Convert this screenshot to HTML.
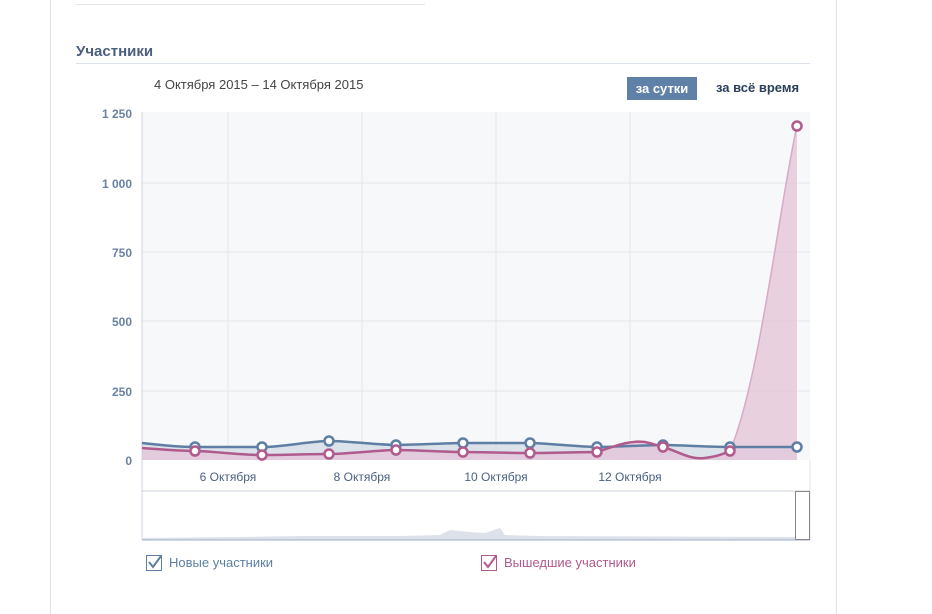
<!DOCTYPE html>
<html><head><meta charset="utf-8"><style>
body{margin:0;width:932px;height:614px;background:#fff;font-family:"Liberation Sans",sans-serif;position:relative;overflow:hidden}
.a{position:absolute}
</style></head><body>
<div class="a" style="left:50px;top:0;width:1px;height:614px;background:#dfe3e8"></div>
<div class="a" style="left:836px;top:0;width:1px;height:614px;background:#dfe3e8"></div>
<div class="a" style="left:76px;top:4px;width:349px;height:1px;background:#e4e7ec"></div>
<div class="a" style="left:76px;top:43px;font-size:15px;font-weight:bold;color:#4a5f7f">Участники</div>
<div class="a" style="left:76px;top:63px;width:734px;height:1px;background:#dae1e8"></div>
<div class="a" style="left:154px;top:77px;font-size:13px;color:#444">4 Октября 2015 – 14 Октября 2015</div>
<div class="a" style="left:627px;top:77px;width:70px;height:23px;background:#5f81a8;color:#fff;font-size:13px;font-weight:bold;text-align:center;line-height:23px">за сутки</div>
<div class="a" style="left:716px;top:80px;font-size:13px;font-weight:bold;color:#2b3f5c">за всё время</div>
<svg class="a" style="left:0;top:0" width="932" height="614">
<rect x="142" y="112" width="668" height="348" fill="#f7f8fa"/>
<g stroke="#e3e6ec" stroke-width="1">
<line x1="142" x2="810" y1="183" y2="183"/><line x1="142" x2="810" y1="252" y2="252"/><line x1="142" x2="810" y1="321" y2="321"/><line x1="142" x2="810" y1="391" y2="391"/>
<line x1="228" x2="228" y1="112" y2="460"/><line x1="362" x2="362" y1="112" y2="460"/><line x1="496" x2="496" y1="112" y2="460"/><line x1="630" x2="630" y1="112" y2="460"/>
</g>
<line x1="142" x2="142" y1="112" y2="540" stroke="#ccd3dc"/>
<g font-size="12" font-weight="bold" fill="#6a82a2" text-anchor="end">
<text x="132" y="118">1 250</text><text x="132" y="188">1 000</text><text x="132" y="257">750</text><text x="132" y="326">500</text><text x="132" y="396">250</text><text x="132" y="465">0</text></g>
<path d="M142,443 C170,446 180,447 195,447 S240,447 262,447 S310,441 329,441 S380,445 396,445 S450,443 463,443 S515,443 530,443 S580,447 597,447 S650,445 663,445 S715,447 730,447 L797,447 L797,460 L142,460Z" fill="#c9d3df" opacity="0.6"/>
<path d="M142,448 C170,450 180,451 195,451 S240,455 262,455 S310,454 329,454 S380,450 396,450 S450,452 463,452 S515,453 530,453 S585,452 597,452 C615,446 630,440 645,442 C655,444 658,446 663,447 C680,452 690,460 705,458 C720,456 725,453 730,451 C760,380 780,200 797,126 L797,460 L142,460Z" fill="#e3c6d8" opacity="0.8"/>
<path d="M142,443 C170,446 180,447 195,447 S240,447 262,447 S310,441 329,441 S380,445 396,445 S450,443 463,443 S515,443 530,443 S580,447 597,447 S650,445 663,445 S715,447 730,447 L797,447" fill="none" stroke="#5e7fa3" stroke-width="2.5"/>
<path d="M142,448 C170,450 180,451 195,451 S240,455 262,455 S310,454 329,454 S380,450 396,450 S450,452 463,452 S515,453 530,453 S585,452 597,452 C615,446 630,440 645,442 C655,444 658,446 663,447 C680,452 690,460 705,458 C720,456 725,453 730,451" fill="none" stroke="#b05a8d" stroke-width="2.5"/>
<path d="M730,451 C760,380 780,200 797,126" fill="none" stroke="#d9a9c6" stroke-width="1.5"/>
<g fill="#fff" stroke="#5e7fa3" stroke-width="2.5">
<circle cx="195" cy="447" r="4.5"/><circle cx="262" cy="447" r="4.5"/><circle cx="329" cy="441" r="4.5"/><circle cx="396" cy="445" r="4.5"/><circle cx="463" cy="443" r="4.5"/><circle cx="530" cy="443" r="4.5"/><circle cx="597" cy="447" r="4.5"/><circle cx="663" cy="445" r="4.5"/><circle cx="730" cy="447" r="4.5"/><circle cx="797" cy="447" r="4.5"/></g>
<g fill="#fff" stroke="#b05a8d" stroke-width="2.5">
<circle cx="195" cy="451" r="4.5"/><circle cx="262" cy="455" r="4.5"/><circle cx="329" cy="454" r="4.5"/><circle cx="396" cy="450" r="4.5"/><circle cx="463" cy="452" r="4.5"/><circle cx="530" cy="453" r="4.5"/><circle cx="597" cy="452" r="4.5"/><circle cx="663" cy="447" r="4.5"/><circle cx="730" cy="451" r="4.5"/><circle cx="797" cy="126" r="4.5"/></g>
<g font-size="12" fill="#4a5f7f" text-anchor="middle">
<text x="228" y="481">6 Октября</text><text x="362" y="481">8 Октября</text><text x="496" y="481">10 Октября</text><text x="630" y="481">12 Октября</text></g>
<line x1="142" x2="810" y1="491" y2="491" stroke="#ccd3dc"/>
<line x1="810" x2="810" y1="460" y2="540" stroke="#e3e6ec"/>
<path d="M142,538 L240,537 L300,536 L400,536 L440,535 L450,530 L470,532 L485,533 L500,528 L505,535 L540,536 L800,537 L800,540 L142,540Z" fill="#dde2ea"/>
<line x1="142" x2="810" y1="540" y2="540" stroke="#9fb0c4"/>
<rect x="795.5" y="491.5" width="14" height="48" fill="#fff" stroke="#888" stroke-width="1"/>
<rect x="146.5" y="555.5" width="15" height="15" fill="#fff" stroke="#5e7fa3"/>
<path d="M149,562 L153,567 L161,556" fill="none" stroke="#5e7fa3" stroke-width="2"/>
<rect x="481.5" y="555.5" width="15" height="15" fill="#fff" stroke="#b05a8d"/>
<path d="M484,562 L488,567 L496,556" fill="none" stroke="#b05a8d" stroke-width="2"/>
<text x="169" y="567" font-size="13" fill="#5e7fa3">Новые участники</text>
<text x="504" y="567" font-size="13" fill="#b05a8d">Вышедшие участники</text>
</svg>
</body></html>
